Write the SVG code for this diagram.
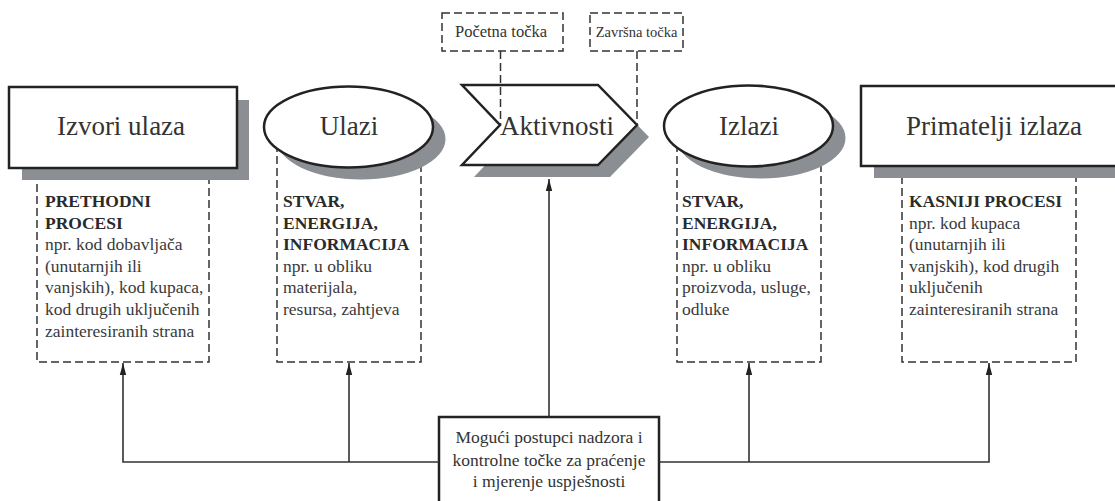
<svg xmlns="http://www.w3.org/2000/svg" width="1115" height="501" viewBox="0 0 1115 501">
<style>
  .shape { fill: #fff; stroke: #222; stroke-width: 2.5; }
  .shadow { fill: #8b8e93; stroke: none; }
  .dash { fill: none; stroke: #333; stroke-width: 1.5; stroke-dasharray: 8 4; }
  .conn { fill: none; stroke: #333; stroke-width: 1.6; }
  text { font-family: 'Liberation Serif', 'Times New Roman', 'DejaVu Serif', serif; }
  .big { font-size: 27px; fill: #333; text-anchor: middle; }
  .body { font-size: 17.5px; fill: #3a3a3a; }
  .bold { font-weight: bold; fill: #2a2a2a; }
  .small { fill: #333; text-anchor: middle; }
  .mid { font-size: 17.5px; fill: #333; text-anchor: middle; }
</style>
<defs>
  <marker id="arr" viewBox="0 0 12 8" refX="12" refY="4" markerWidth="12" markerHeight="8" markerUnits="userSpaceOnUse" orient="auto">
    <path d="M0,0.8 L12,4 L0,7.2 Z" fill="#222"/>
  </marker>
</defs>
<rect width="1115" height="501" fill="#fff"/>

<!-- dashed description boxes -->
<g id="desc-prethodni">
  <rect class="dash" x="37" y="168" width="172" height="194"/>
  <text class="body" x="45"><tspan class="bold" x="45" y="207">PRETHODNI</tspan><tspan class="bold" x="45" y="229">PROCESI</tspan><tspan x="45" y="250">npr. kod dobavljača</tspan><tspan x="45" y="272">(unutarnjih ili</tspan><tspan x="45" y="293">vanjskih), kod kupaca,</tspan><tspan x="45" y="315">kod drugih uključenih</tspan><tspan x="45" y="337">zainteresiranih strana</tspan></text>
</g>
<g id="desc-ulazi">
  <rect class="dash" x="277" y="140" width="144" height="222"/>
  <text class="body" x="283"><tspan class="bold" x="283" y="207">STVAR,</tspan><tspan class="bold" x="283" y="229">ENERGIJA,</tspan><tspan class="bold" x="283" y="250">INFORMACIJA</tspan><tspan x="283" y="272">npr. u obliku</tspan><tspan x="283" y="293">materijala,</tspan><tspan x="283" y="315">resursa, zahtjeva</tspan></text>
</g>
<g id="desc-izlazi">
  <rect class="dash" x="677" y="140" width="144" height="222"/>
  <text class="body" x="682"><tspan class="bold" x="682" y="207">STVAR,</tspan><tspan class="bold" x="682" y="229">ENERGIJA,</tspan><tspan class="bold" x="682" y="250">INFORMACIJA</tspan><tspan x="682" y="272">npr. u obliku</tspan><tspan x="682" y="293">proizvoda, usluge,</tspan><tspan x="682" y="315">odluke</tspan></text>
</g>
<g id="desc-kasniji">
  <rect class="dash" x="902" y="168" width="174" height="194"/>
  <text class="body" x="909"><tspan class="bold" x="909" y="207">KASNIJI PROCESI</tspan><tspan x="909" y="229">npr. kod kupaca</tspan><tspan x="909" y="250">(unutarnjih ili</tspan><tspan x="909" y="272">vanjskih), kod drugih</tspan><tspan x="909" y="293">uključenih</tspan><tspan x="909" y="315">zainteresiranih strana</tspan></text>
</g>

<!-- main nodes -->
<g id="izvori-ulaza">
  <rect class="shadow" x="22" y="100" width="227" height="80"/>
  <rect class="shape" x="9" y="87" width="228" height="81"/>
  <text class="big" x="121" y="135">Izvori ulaza</text>
</g>
<g id="ulazi">
  <ellipse class="shadow" cx="361" cy="139" rx="84.5" ry="40.5"/>
  <ellipse class="shape" cx="348.5" cy="127" rx="84.5" ry="40.5"/>
  <text class="big" x="349" y="135">Ulazi</text>
</g>
<g id="aktivnosti">
  <polygon class="shadow" points="474,97 610,97 649,137 610,177 474,177 512,137"/>
  <polygon class="shape" points="462,85 598,85 637,125 598,165 462,165 500,125"/>
  <text class="big" x="557" y="135">Aktivnosti</text>
</g>
<g id="izlazi">
  <ellipse class="shadow" cx="761" cy="138" rx="84.5" ry="40.5"/>
  <ellipse class="shape" cx="748.5" cy="126" rx="84.5" ry="40.5"/>
  <text class="big" x="749" y="135">Izlazi</text>
</g>
<g id="primatelji-izlaza">
  <rect class="shadow" x="874" y="98" width="260" height="80"/>
  <rect class="shape" x="861" y="86" width="270" height="80"/>
  <text class="big" x="994" y="135">Primatelji izlaza</text>
</g>
<g id="pocetna-tocka">
  <rect class="dash" x="442" y="13" width="121" height="38" fill="#fff"/>
  <text class="small" x="501" y="37" font-size="16.5">Početna točka</text>
</g>
<g id="zavrsna-tocka">
  <rect class="dash" x="590" y="13" width="93" height="38" fill="#fff"/>
  <text class="small" x="636.5" y="37" font-size="14.5">Završna točka</text>
</g>
<g id="nadzor">
  <rect class="shape" x="439" y="417" width="220" height="100"/>
  <text class="mid"><tspan x="549" y="443">Mogući postupci nadzora i</tspan><tspan x="549" y="466">kontrolne točke za praćenje</tspan><tspan x="549" y="487">i mjerenje uspješnosti</tspan></text>
</g>

<!-- connectors -->
<g id="connectors">
  <line class="dash" x1="500.5" y1="51" x2="500.5" y2="125"/>
  <line class="dash" x1="637" y1="51" x2="637" y2="125"/>
  <polyline class="conn" points="439,462 123,462 123,363" marker-end="url(#arr)"/>
  <line class="conn" x1="349" y1="462" x2="349" y2="363" marker-end="url(#arr)"/>
  <line class="conn" x1="549" y1="417" x2="549" y2="179" marker-end="url(#arr)"/>
  <polyline class="conn" points="659,462 989,462 989,363" marker-end="url(#arr)"/>
  <line class="conn" x1="749" y1="462" x2="749" y2="363" marker-end="url(#arr)"/>
</g>
</svg>
